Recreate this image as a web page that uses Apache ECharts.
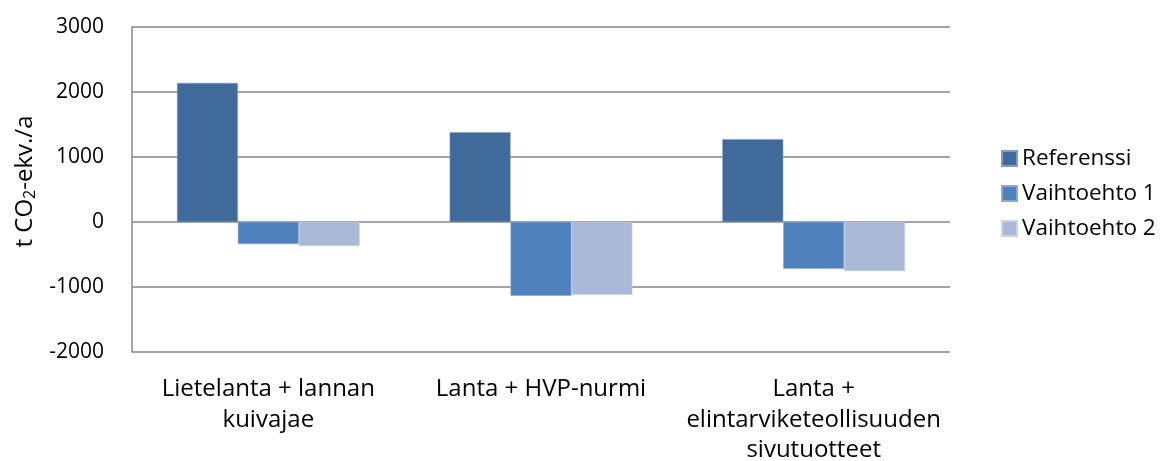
<!DOCTYPE html>
<html>
<head>
<meta charset="utf-8">
<script src="https://cdn.jsdelivr.net/npm/echarts@6/dist/echarts.min.js"></script>
<style>
  html, body { margin: 0; padding: 0; background: #fff; }
  #chart { width: 1161px; height: 461px; }
</style>
</head>
<body>
<div id="chart"></div>
<script>
  const categories = ['Lietelanta + lannan\nkuivajae', 'Lanta + HVP-nurmi', 'Lanta +\nelintarviketeollisuuden\nsivutuotteet']
  const referenssi = [2140, 1380, 1275]
  const vaihtoehto1 = [-340, -1135, -720]
  const vaihtoehto2 = [-370, -1120, -755]
  const seriesNames = ['Referenssi', 'Vaihtoehto 1', 'Vaihtoehto 2']

  const font = '"Open Sans", Lato, sans-serif'
  const chart = echarts.init(document.getElementById('chart'))

  const option = {
    animation: false,
    textStyle: { fontFamily: font },
    grid: { left: 132, right: 211, top: 27, bottom: 109, outerBoundsMode: 'none' },
    legend: {
      orient: 'vertical',
      left: 996,
      top: 142,
      itemWidth: 15,
      itemHeight: 15,
      itemGap: 12,
      icon: 'rect',
      textStyle: { fontSize: 22.5, color: '#000', fontFamily: font },
      data: seriesNames
    },
    xAxis: {
      type: 'category',
      data: categories,
      axisLine: { onZero: false, show: false },
      axisTick: { show: false },
      axisLabel: { fontSize: 24, color: '#000', margin: 22, lineHeight: 30.5, interval: 0 }
    },
    yAxis: {
      type: 'value',
      min: -2000,
      max: 3000,
      interval: 1000,
      name: '{n|t CO}{s|2}{n|-ekv./a}',
      nameLocation: 'middle',
      nameGap: 92,
      nameTextStyle: {
        padding: [0, 0, 0, 16],
        rich: {
          n: { fontSize: 24, color: '#000', fontFamily: font },
          s: { fontSize: 16, color: '#000', fontFamily: font, padding: [10, 0, 0, 0] }
        }
      },
      axisLine: { show: true, lineStyle: { color: '#868686', width: 1.5 } },
      axisTick: { show: false },
      axisLabel: { fontSize: 21, color: '#000', margin: 28, formatter: v => String(v) },
      splitLine: { lineStyle: { color: '#868686', width: 1.5 } }
    },
    series: [
      {
        name: seriesNames[0], type: 'bar', data: referenssi,
        barGap: '0%', barCategoryGap: '33%',
        itemStyle: { color: '#3F6A9A', borderColor: '#7f9cc0', borderWidth: 0.5 }
      },
      {
        name: seriesNames[1], type: 'bar', data: vaihtoehto1,
        itemStyle: { color: '#4F81BD', borderColor: '#8aa9d4', borderWidth: 0.5 }
      },
      {
        name: seriesNames[2], type: 'bar', data: vaihtoehto2,
        itemStyle: { color: '#AAB9D7', borderColor: '#c9d4e8', borderWidth: 0.5 }
      }
    ]
  }

  chart.setOption(option)
</script>
</body>
</html>
